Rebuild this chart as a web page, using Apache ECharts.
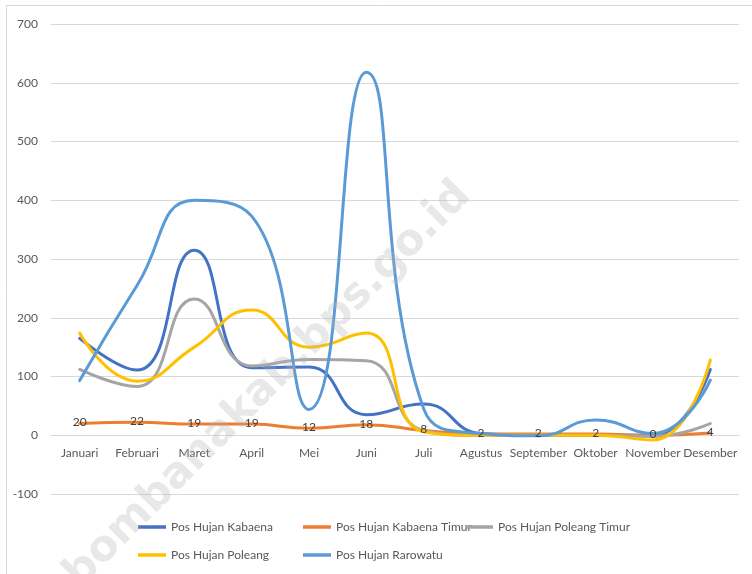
<!DOCTYPE html>
<html>
<head>
<meta charset="utf-8">
<script src="https://cdn.jsdelivr.net/npm/echarts@6/dist/echarts.min.js"></script>
<style>
html,body{margin:0;padding:0;background:#fff;}
#c{width:752px;height:574px;}
</style>
</head>
<body>
<div id="c"></div>
<script>
var categories = ['Januari','Februari','Maret','April','Mei','Juni','Juli','Agustus','September','Oktober','November','Desember'];
var kabaena = [165, 111, 315, 115, 116, 35, 53, 3, 0, 0, 0, 112];
var kabaenaTimur = [20, 22, 19, 19, 12, 18, 8, 2, 2, 2, 0, 4];
var poleangTimur = [112, 83, 232, 118, 129, 127, 8, 0, 0, 0, -2, 20];
var poleang = [174, 92, 150, 213, 150, 174, 6, 0, 0, 0, -8, 128];
var rarowatu = [93, 255, 400, 373, 44, 618, 45, 3, -1, 26, 3, 94];
var yTicks = [-100, 0, 100, 200, 300, 400, 500, 600, 700];

var FONT = 'Lato, "Open Sans", sans-serif';
var chart = echarts.init(document.getElementById('c'), null, {renderer: 'canvas'});

function lineSeries(name, data, color, extra) {
  var s = {
    name: name,
    type: 'line',
    data: data,
    smooth: 0.5,
    symbol: 'none',
    lineStyle: {width: 3, color: color, cap: 'round'},
    itemStyle: {color: color},
    emphasis: {disabled: true},
    z: 3
  };
  if (extra) { for (var k in extra) s[k] = extra[k]; }
  return s;
}

function legendAt(name, color, left, top) {
  return {
    data: [{name: name, icon: 'rect', itemStyle: {color: color}}],
    left: left,
    top: top,
    itemWidth: 28,
    itemHeight: 3.5,
    padding: 0,
    selectedMode: false,
    textStyle: {fontFamily: FONT, fontSize: 12, color: '#595959'}
  };
}

var option = {
  backgroundColor: '#ffffff',
  animation: false,
  grid: {left: 51, right: 13, top: 24, bottom: 80, containLabel: false},
  legend: [
    legendAt('Pos Hujan Kabaena', '#4472C4', 138, 521),
    legendAt('Pos Hujan Kabaena Timur', '#ED7D31', 303, 521),
    legendAt('Pos Hujan Poleang Timur', '#A5A5A5', 465, 521),
    legendAt('Pos Hujan Poleang', '#FFC000', 138, 549),
    legendAt('Pos Hujan Rarowatu', '#5B9BD5', 303, 549)
  ],
  xAxis: {
    type: 'category',
    data: categories,
    boundaryGap: true,
    offset: -58.7,
    axisLine: {show: true, onZero: false, lineStyle: {color: '#d9d9d9', width: 1}},
    axisTick: {show: false},
    axisLabel: {fontFamily: FONT, fontSize: 12, color: '#595959', margin: 12, interval: 0}
  },
  yAxis: {
    type: 'value',
    min: -100,
    max: 700,
    interval: 100,
    axisLine: {show: false},
    axisTick: {show: false},
    splitLine: {lineStyle: {color: '#d9d9d9', width: 1}},
    axisLabel: {
      fontFamily: FONT, fontSize: 12, color: '#595959', margin: 13,
      formatter: function (v) { return yTicks.indexOf(v) >= 0 ? String(v) : ''; }
    }
  },
  series: [
    lineSeries('Pos Hujan Kabaena', kabaena, '#4472C4'),
    lineSeries('Pos Hujan Kabaena Timur', kabaenaTimur, '#ED7D31', {
      symbol: 'circle',
      symbolSize: 1,
      showSymbol: true,
      itemStyle: {color: 'rgba(0,0,0,0)', borderWidth: 0},
      label: {show: true, position: 'inside', fontFamily: FONT, fontSize: 12, color: '#404040', offset: [0, -1]}
    }),
    lineSeries('Pos Hujan Poleang Timur', poleangTimur, '#A5A5A5'),
    lineSeries('Pos Hujan Poleang', poleang, '#FFC000'),
    lineSeries('Pos Hujan Rarowatu', rarowatu, '#5B9BD5')
  ],
  graphic: [
    {
      type: 'rect',
      shape: {x: 6.5, y: 5.5, width: 760, height: 600},
      style: {fill: 'none', stroke: '#d9d9d9', lineWidth: 1},
      silent: true,
      z: 0
    },
    {
      type: 'text',
      x: 268,
      y: 385,
      rotation: Math.PI / 4,
      style: {
        text: 'bombanakab.bps.go.id',
        font: 'bold 43px "DejaVu Sans", sans-serif',
        fill: 'rgba(180,180,180,0.3)',
        align: 'center',
        verticalAlign: 'middle'
      },
      silent: true,
      z: 100
    }
  ]
};
chart.setOption(option);
</script>
</body>
</html>
